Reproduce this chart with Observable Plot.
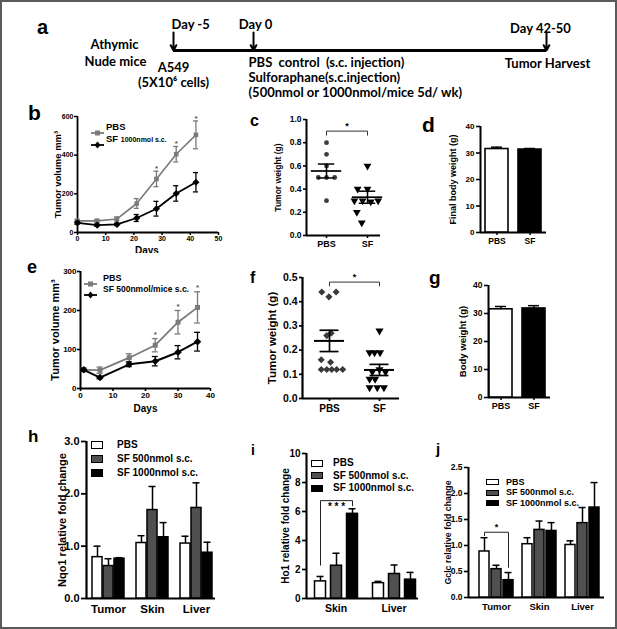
<!DOCTYPE html>
<html><head><meta charset="utf-8">
<script src="https://cdn.jsdelivr.net/npm/d3@7"></script>
<script src="https://cdn.jsdelivr.net/npm/@observablehq/plot@0.6"></script>
<style>
body{margin:0;background:#fff}
#fig{position:relative;width:617px;height:629px;overflow:hidden;background:#fff}
#border{position:absolute;left:0;top:0;width:617px;height:629px;box-sizing:border-box;border:2px solid #5a5a5a;pointer-events:none}
.t{position:absolute;white-space:nowrap;font-family:"Liberation Sans",Arial,sans-serif;font-weight:bold;color:#000}
</style></head><body><div id="fig"></div>
<script>
// ================= DATA =================
// a: timeline
const aDays = [-5, 0, 46];
const aDayLabels = ["Day -5", "Day 0", "Day 42-50"];
const aHostLines = ["Athymic", "Nude mice"];
const aCellLines = ["A549", "(5X10⁶ cells)"];
const aTreatLines = ["PBS  control  (s.c. injection)", "Sulforaphane(s.c.injection)", "(500nmol or 1000nmol/mice 5d/ wk)"];
const aEndLabel = "Tumor Harvest";

// b: tumor volume, SF 1000 nmol
const bDays = [0, 7, 14, 21, 28, 35, 42];
const bPBS = [60, 60, 70, 150, 277, 405, 505];
const bPBSErr = [8, 8, 10, 25, 40, 40, 72];
const bSF = [50, 38, 42, 75, 123, 202, 260];
const bSFErr = [8, 6, 6, 18, 38, 40, 50];
const bStars = [28, 35, 42];
const bXTicks = [0, 10, 20, 30, 40, 50];
const bYTicks = [0, 200, 400, 600];

// c: tumor weight (SF 1000)
const cGroups = ["PBS", "SF"];
const cPBS = [0.8, 0.7, 0.6, 0.5, 0.5, 0.5, 0.3];
const cPBSSlot = [0, 0, 0, -1, 0, 1, 0];
const cSF = [0.6, 0.4, 0.4, 0.3, 0.3, 0.29, 0.3, 0.2, 0.11];
const cSFSlot = [0, -1.2, 0, -1.6, -0.6, 0.4, 1.3, -1.3, -0.7];
const cMean = [0.556, 0.33];
const cSEM = [0.06, 0.052];
const cYTicks = [0, 0.2, 0.4, 0.6, 0.8, 1.0];

// d: final body weight
const dGroups = ["PBS", "SF"];
const dVals = [31.5, 31.3];
const dErr = [0.7, 0.4];
const dYTicks = [0, 10, 20, 30, 40];

// e: tumor volume, SF 500 nmol
const eDays = [1, 6, 15, 23, 30, 36];
const ePBS = [48, 47, 79, 111, 170, 208];
const ePBSErr = [4, 8, 10, 17, 30, 40];
const eSF = [48, 28, 62, 70, 93, 120];
const eSFErr = [4, 3, 6, 12, 17, 24];
const eStars = [23, 30, 36];
const eXTicks = [0, 10, 20, 30, 40];
const eYTicks = [0, 100, 200, 300];

// f: tumor weight (SF 500)
const fGroups = ["PBS", "SF"];
const fPBS = [0.44, 0.42, 0.44, 0.27, 0.26, 0.16, 0.15, 0.12, 0.12, 0.12, 0.12, 0.12];
const fPBSSlot = [-1.4, -0.1, 1.2, 0.3, -0.5, -1.5, 0.2, -1.5, -0.5, 0.4, 1.3, 2.4];
const fSF = [0.28, 0.19, 0.19, 0.19, 0.12, 0.11, 0.11, 0.08, 0.08, 0.045, 0.045, 0.045];
const fSFSlot = [0, -1.8, -0.9, 0.1, 0, -1.3, 1.1, -1.8, -0.8, -1.8, -0.4, 0.8];
const fMean = [0.238, 0.118];
const fSEM = [0.044, 0.023];
const fYTicks = [0, 0.1, 0.2, 0.3, 0.4, 0.5];

// g: body weight
const gGroups = ["PBS", "SF"];
const gVals = [31.5, 31.8];
const gErr = [1.0, 1.0];
const gYTicks = [0, 10, 20, 30, 40];

// h, i, j: relative fold change
const series3 = ["PBS", "SF 500nmol s.c.", "SF 1000nmol s.c."];
const hCats = ["Tumor", "Skin", "Liver"];
const hPBS = [0.79, 1.06, 1.05],   hPBSErr = [0.21, 0.14, 0.14];
const hSF500 = [0.62, 1.69, 1.73], hSF500Err = [0.14, 0.45, 0.48];
const hSF1000 = [0.76, 1.17, 0.875], hSF1000Err = [0.02, 0.28, 0.2];
const hYTicks = [0, 1, 2, 3];

const iCats = ["Skin", "Liver"];
const iPBS = [1.18, 1.06],   iPBSErr = [0.34, 0.12];
const iSF500 = [2.26, 1.69], iSF500Err = [0.86, 0.62];
const iSF1000 = [5.84, 1.3], iSF1000Err = [0.35, 0.5];
const iYTicks = [0, 2, 4, 6, 8, 10];

const jCats = ["Tumor", "Skin", "Liver"];
const jPBS = [0.885, 1.025, 1.01],  jPBSErr = [0.265, 0.125, 0.08];
const jSF500 = [0.545, 1.30, 1.43], jSF500Err = [0.075, 0.17, 0.30];
const jSF1000 = [0.333, 1.28, 1.73], jSF1000Err = [0.147, 0.16, 0.48];
const jYTicks = [0, 0.5, 1.0, 1.5, 2.0, 2.5];

// ================= HELPERS =================
const fig = document.getElementById("fig");
const W = 617, H = 629;
const ARIAL = '"Liberation Sans", Arial, Helvetica, sans-serif';
const LATO = 'Lato, "Open Sans", sans-serif';
const GRAY_LINE = "#7a7a7a";
const SERIES_FILL = ["#ffffff", "#505050", "#000000"];
const baseStyle = {background: "transparent", fontFamily: ARIAL, overflow: "visible"};

function fr(l, t, r, b) {
  return {width: W, height: H, marginLeft: l, marginTop: t, marginRight: W - r, marginBottom: H - b};
}
function put(svg) {
  svg.style.position = "absolute"; svg.style.left = "0px"; svg.style.top = "0px";
  fig.appendChild(svg);
}
function html(content, left, cy, size, extra = "") {
  const d = document.createElement("div");
  d.className = "t";
  d.innerHTML = content;
  d.style.cssText += `left:${left}px;top:${cy - size * 0.5}px;font-size:${size}px;line-height:${size}px;${extra}`;
  fig.appendChild(d);
  return d;
}
function letter(ch, left, baseline, size) {
  const d = document.createElement("div");
  d.className = "t";
  d.textContent = ch;
  d.style.cssText += `left:${left}px;top:${baseline - 0.85 * size}px;font-size:${size}px;line-height:${size}px;`;
  fig.appendChild(d);
}
function rowsOf(xs, vs, es) { return xs.map((x, i) => ({x, v: vs[i], e: es[i]})); }

function yLabel(text, dx, fs) {
  return Plot.text([text], {text: d => d, frameAnchor: "left", textAnchor: "middle", lineAnchor: "middle", rotate: -90, dx, fontSize: fs, fontWeight: "bold", fontFamily: ARIAL});
}
// axes-only plot: y ticks, L-shaped axis lines and the y title
function axesPlot(frame, yDomain, yTicks, o) {
  return Plot.plot({
    ...frame, style: baseStyle,
    x: {domain: [0, 1], axis: null},
    y: {domain: yDomain, axis: null},
    marks: [
      Plot.axisY({ticks: yTicks, tickFormat: o.fmt, tickSize: o.tickSize ?? 4, tickPadding: o.pad ?? 2,
        strokeWidth: o.sw ?? 1.6, fontSize: o.fs, fontWeight: "bold", fontFamily: ARIAL, label: null}),
      Plot.ruleX([0], {strokeWidth: (o.sw ?? 1.6) + 0.4}),
      Plot.ruleY([yDomain[0]], {strokeWidth: (o.sw ?? 1.6) + 0.4}),
      yLabel(o.label, o.labelDx, o.labelFs)
    ]
  });
}
// two-bar panels (d, g)
function twoBars(frame, groups, vals, errs, yDomain, o) {
  const rows = groups.map((g, i) => ({g, v: vals[i], e: errs[i], k: i}));
  return Plot.plot({
    ...frame, style: baseStyle,
    x: {domain: groups, paddingInner: o.pi, paddingOuter: 0, axis: null},
    y: {domain: yDomain, axis: null},
    color: {domain: [0, 1], range: ["#ffffff", "#000000"], type: "ordinal"},
    marks: [
      Plot.barY(rows, {x: "g", y: "v", fill: "k", stroke: "#000", strokeWidth: 1.6}),
      Plot.ruleX(rows, {x: "g", y1: "v", y2: d => d.v + d.e, strokeWidth: 1.5}),
      Plot.tickY(rows, {x: "g", y: d => d.v + d.e, strokeWidth: 1.5, insetLeft: o.capInset, insetRight: o.capInset}),
      Plot.axisX({tickSize: 3, tickPadding: o.tickPad ?? 2, strokeWidth: 1.5, fontSize: o.fs, fontWeight: "bold", fontFamily: ARIAL, label: null})
    ]
  });
}
// grouped bars with facets (h, i, j)
function groupedBars(frame, cats, vals, errs, yDomain, o) {
  const rows = [];
  cats.forEach((c, ci) => series3.forEach((s, si) => rows.push({cat: c, s, v: vals[si][ci], e: errs[si][ci]})));
  const marks = [
    Plot.barY(rows, {fx: "cat", x: "s", y: "v", fill: "s", stroke: "#000", strokeWidth: 1.5}),
    Plot.ruleX(rows, {fx: "cat", x: "s", y1: "v", y2: d => d.v + d.e, strokeWidth: 1.5}),
    Plot.tickY(rows, {fx: "cat", x: "s", y: d => d.v + d.e, strokeWidth: 1.5, insetLeft: o.capInset, insetRight: o.capInset}),
    Plot.axisFx({anchor: "bottom", tickSize: 0, tickPadding: o.tickPad, fontSize: o.fs, fontWeight: "bold", fontFamily: ARIAL, label: null})
  ];
  if (o.bracket) {
    const b = o.bracket;
    const pts = [
      {cat: b.cat, s: series3[b.from], y: b.fromLow},
      {cat: b.cat, s: series3[b.from], y: b.y},
      {cat: b.cat, s: series3[b.to], y: b.y},
      {cat: b.cat, s: series3[b.to], y: b.toLow}
    ];
    marks.push(Plot.line(pts, {fx: "cat", x: "s", y: "y", strokeWidth: 1, stroke: "#222"}));
    marks.push(Plot.text([b], {fx: d => d.cat, x: d => series3[d.mid], y: d => d.y, text: d => d.label, dy: b.dy, fontSize: b.fs, fontWeight: "bold", fontFamily: ARIAL}));
  }
  return Plot.plot({
    ...frame, style: baseStyle,
    fx: {domain: cats, paddingInner: o.fxPi, paddingOuter: 0},
    x: {domain: series3, paddingInner: o.xPi, paddingOuter: 0, axis: null},
    y: {domain: yDomain, axis: null},
    color: {domain: series3, range: SERIES_FILL},
    marks
  });
}
function barLegend(x, y0, rowH, bw, bh, fs, gap) {
  series3.forEach((s, i) => {
    const cy = y0 + i * rowH;
    const box = document.createElement("div");
    box.style.cssText = `position:absolute;left:${x}px;top:${cy - bh / 2}px;width:${bw}px;height:${bh}px;box-sizing:border-box;border:1.6px solid #000;background:${SERIES_FILL[i]}`;
    fig.appendChild(box);
    html(s, x + bw + gap, cy, fs);
  });
}
function lineSwatch(x, cy, color, symbol) {
  const mk = symbol === "square"
    ? `<rect x="4" y="1.5" width="5" height="5" fill="${color}"/>`
    : `<path d="M6.5,0.5 L9.5,4 L6.5,7.5 L3.5,4 Z" fill="${color}"/>`;
  const d = document.createElement("div");
  d.style.cssText = `position:absolute;left:${x}px;top:${cy - 4}px;width:13px;height:8px`;
  d.innerHTML = `<svg width="13" height="8"><line x1="0" y1="4" x2="13" y2="4" stroke="${color}" stroke-width="1.8"/>${mk}</svg>`;
  fig.appendChild(d);
}

// series for line panels
function growthMarks(rows, color, symbol, r, cap, sw) {
  return [
    Plot.line(rows, {x: "x", y: "v", stroke: color, strokeWidth: sw}),
    Plot.ruleX(rows, {x: "x", y1: d => d.v - d.e, y2: d => d.v + d.e, stroke: color, strokeWidth: 1.3}),
    Plot.ruleY(rows, {x1: d => d.x - cap, x2: d => d.x + cap, y: d => d.v + d.e, stroke: color, strokeWidth: 1.3}),
    Plot.ruleY(rows, {x1: d => d.x - cap, x2: d => d.x + cap, y: d => d.v - d.e, stroke: color, strokeWidth: 1.3}),
    Plot.dot(rows, {x: "x", y: "v", symbol, r, fill: color, stroke: null})
  ];
}

// ================= PANEL a =================
// The schematic timeline is not drawn to scale: a symlog day scale places
// Day -5, Day 0 and Day 42-50 where the reference puts them.
{
  const aFont = {fontFamily: LATO, fontSize: 13, fontWeight: "bold"};
  put(Plot.plot({
    width: W, height: H, margin: 0, style: baseStyle,
    x: {type: "symlog", constant: 6.5, domain: [aDays[0], aDays[2]], range: [173, 546], axis: null},
    y: {domain: [0, 1], range: [32, 50], axis: null},
    marks: [
      Plot.ruleY([1], {x1: d3.min(aDays), x2: d3.max(aDays), strokeWidth: 3}),
      Plot.arrow(aDays, {x: d => d, y1: 0, y2: 1, strokeWidth: 2, headLength: 7, headAngle: 55}),
      Plot.text([aDays[0]], {x: d => d, y: 0, text: () => aDayLabels[0], textAnchor: "start", dx: -2, dy: -8, ...aFont}),
      Plot.text([aDays[1]], {x: d => d, y: 0, text: () => aDayLabels[1], dx: 2, dy: -8, ...aFont}),
      Plot.text([aDays[2]], {x: d => d, y: 0, text: () => aDayLabels[2], dx: -6, dy: -4, ...aFont}),
      Plot.text([aDays[0]], {x: d => d, y: 1, text: () => aHostLines[0], dx: -59, dy: -6, ...aFont}),
      Plot.text([aDays[0]], {x: d => d, y: 1, text: () => aHostLines[1], dx: -58, dy: 11, ...aFont}),
      Plot.text([aDays[0]], {x: d => d, y: 1, text: () => aCellLines[0], dx: 0, dy: 17, ...aFont}),
      Plot.text([aDays[0]], {x: d => d, y: 1, text: () => aCellLines[1], dx: 0, dy: 32, ...aFont}),
      ...aTreatLines.map((t, i) => Plot.text([aDays[1]], {x: d => d, y: 1, text: () => t, textAnchor: "start", dx: -5, dy: 12 + 15 * i, ...aFont})),
      Plot.text([aDays[2]], {x: d => d, y: 1, text: () => aEndLabel, dx: 1, dy: 13, ...aFont})
    ]
  }));
}

// ================= PANEL b =================
{
  const pbs = rowsOf(bDays, bPBS, bPBSErr), sf = rowsOf(bDays, bSF, bSFErr);
  put(Plot.plot({
    ...fr(77, 116, 218, 232), style: baseStyle,
    x: {domain: [0, 50]}, y: {domain: [0, 600]},
    marks: [
      Plot.axisX({ticks: bXTicks, tickSize: 3, tickPadding: 1, strokeWidth: 1.5, fontSize: 7, fontWeight: "bold", fontFamily: ARIAL, label: null}),
      Plot.axisY({ticks: bYTicks, tickSize: 3, tickPadding: 1, strokeWidth: 1.5, fontSize: 7, fontWeight: "bold", fontFamily: ARIAL, label: null}),
      Plot.ruleX([0], {strokeWidth: 1.8}), Plot.ruleY([0], {strokeWidth: 1.8}),
      yLabel("Tumor volume mm³", -20, 9.5),
      ...growthMarks(pbs, GRAY_LINE, "square", 2.6, 0.9, 1.6),
      ...growthMarks(sf, "#000", "diamond2", 3.2, 0.9, 1.8),
      Plot.text(pbs.filter(d => bStars.includes(d.x)), {x: "x", y: d => d.v + d.e, text: () => "*", dy: -3, fontSize: 8, fontWeight: "bold", fill: "#555"})
    ]
  }));
  lineSwatch(91, 127, GRAY_LINE, "square");
  html("PBS", 106, 127, 9.5);
  lineSwatch(91, 139, "#000", "diamond");
  html('SF <span style="font-size:7px">1000nmol s.c.</span>', 106, 139, 9.5);
  // "Days" title of panel b, partly hidden under panel e as in the reference
  const clip = document.createElement("div");
  clip.style.cssText = "position:absolute;left:120px;top:246px;width:60px;height:7px;overflow:hidden";
  clip.innerHTML = '<div class="t" style="left:15px;top:0px;font-size:10px;line-height:10px">Days</div>';
  fig.appendChild(clip);
}

// ================= PANEL c =================
{
  const pts1 = cPBS.map((v, i) => ({x: 1 + cPBSSlot[i] * 0.2, v}));
  const pts2 = cSF.map((v, i) => ({x: 2 + cSFSlot[i] * 0.2, v}));
  const summ = cMean.map((m, i) => ({g: i + 1, m, s: cSEM[i]}));
  const br = [{x: 1, y: 0.865}, {x: 1, y: 0.9}, {x: 2, y: 0.9}, {x: 2, y: 0.865}];
  put(Plot.plot({
    ...fr(306, 119, 380, 235), style: baseStyle,
    x: {domain: [0.512, 2.317]}, y: {domain: [0, 1]},
    marks: [
      Plot.axisY({ticks: cYTicks, tickFormat: d3.format(".1f"), tickSize: 3, tickPadding: 2, strokeWidth: 1.6, fontSize: 8.5, fontWeight: "bold", fontFamily: ARIAL, label: null}),
      Plot.axisX({ticks: [1, 2], tickFormat: d => cGroups[d - 1], tickSize: 3, tickPadding: 2, strokeWidth: 1.6, fontSize: 9, fontWeight: "bold", fontFamily: ARIAL, label: null}),
      Plot.ruleX([0.512], {strokeWidth: 2}), Plot.ruleY([0], {strokeWidth: 2}),
      yLabel("Tumor weight (g)", -28, 8.5),
      Plot.dot(pts1, {x: "x", y: "v", r: 2.4, fill: "#3c3c3c", stroke: null}),
      Plot.dot(pts2, {x: "x", y: "v", symbol: "triangle", rotate: 180, r: 2.9, fill: "#000", stroke: null}),
      Plot.ruleY(summ, {x1: d => d.g - 0.37, x2: d => d.g + 0.37, y: "m", strokeWidth: 1.7}),
      Plot.ruleY(summ, {x1: d => d.g - 0.2, x2: d => d.g + 0.2, y: d => d.m + d.s, strokeWidth: 1.5}),
      Plot.ruleY(summ, {x1: d => d.g - 0.2, x2: d => d.g + 0.2, y: d => d.m - d.s, strokeWidth: 1.5}),
      Plot.ruleX(summ, {x: "g", y1: d => d.m - d.s, y2: d => d.m + d.s, strokeWidth: 1.5}),
      Plot.line(br, {x: "x", y: "y", strokeWidth: 1, stroke: "#333"}),
      Plot.text([br[1]], {x: 1.5, y: "y", text: () => "*", dy: -5, fontSize: 9, fontWeight: "bold"})
    ]
  }));
}

// ================= PANEL d =================
put(axesPlot(fr(480, 126, 546, 232), [0, 40], dYTicks, {fs: 8, label: "Final body weight (g)", labelDx: -27, labelFs: 9}));
put(twoBars(fr(484.5, 126, 541.5, 232), dGroups, dVals, dErr, [0, 40], {pi: 0.3, capInset: 6, fs: 8.5}));

// ================= PANEL e =================
{
  const pbs = rowsOf(eDays, ePBS, ePBSErr), sf = rowsOf(eDays, eSF, eSFErr);
  put(Plot.plot({
    ...fr(80, 271, 210, 388), style: baseStyle,
    x: {domain: [0, 40]}, y: {domain: [0, 300]},
    marks: [
      Plot.axisX({ticks: eXTicks, tickSize: 3, tickPadding: 1, strokeWidth: 1.6, fontSize: 8, fontWeight: "bold", fontFamily: ARIAL, label: null}),
      Plot.axisY({ticks: eYTicks, tickSize: 3, tickPadding: 1, strokeWidth: 1.6, fontSize: 8, fontWeight: "bold", fontFamily: ARIAL, label: null}),
      Plot.ruleX([0], {strokeWidth: 2}), Plot.ruleY([0], {strokeWidth: 2}),
      yLabel("Tumor volume mm³", -25, 11),
      Plot.text(["Days"], {text: d => d, frameAnchor: "bottom", dy: 23, fontSize: 10, fontWeight: "bold"}),
      ...growthMarks(pbs, GRAY_LINE, "square", 2.8, 0.9, 1.8),
      ...growthMarks(sf, "#000", "diamond2", 3.4, 0.9, 2),
      Plot.text(pbs.filter(d => eStars.includes(d.x)), {x: "x", y: d => d.v + d.e, text: () => "*", dy: -4, fontSize: 8, fontWeight: "bold", fill: "#555"})
    ]
  }));
  lineSwatch(84, 278, GRAY_LINE, "square");
  html("PBS", 103, 278, 9);
  lineSwatch(84, 289, "#000", "diamond");
  html("SF 500nmol/mice s.c.", 103, 289, 8.5);
}

// ================= PANEL f =================
{
  const pts1 = fPBS.map((v, i) => ({x: 1 + fPBSSlot[i] * 0.11, v}));
  const pts2 = fSF.map((v, i) => ({x: 2 + fSFSlot[i] * 0.11, v}));
  const summ = fMean.map((m, i) => ({g: i + 1, m, s: fSEM[i]}));
  const br = [{x: 1, y: 0.465}, {x: 1, y: 0.481}, {x: 2, y: 0.481}, {x: 2, y: 0.465}];
  put(Plot.plot({
    ...fr(302, 277, 399, 398), style: baseStyle,
    x: {domain: [0.46, 2.4]}, y: {domain: [0, 0.5]},
    marks: [
      Plot.axisY({ticks: fYTicks, tickFormat: d3.format(".1f"), tickSize: 3, tickPadding: 2, strokeWidth: 1.7, fontSize: 10.5, fontWeight: "bold", fontFamily: ARIAL, label: null}),
      Plot.axisX({ticks: [1, 2], tickFormat: d => fGroups[d - 1], tickSize: 3, tickPadding: 3, strokeWidth: 1.7, fontSize: 10, fontWeight: "bold", fontFamily: ARIAL, label: null}),
      Plot.ruleX([0.46], {strokeWidth: 2.2}), Plot.ruleY([0], {strokeWidth: 2.2}),
      yLabel("Tumor weight (g)", -30, 11.5),
      Plot.dot(pts1, {x: "x", y: "v", symbol: "diamond2", r: 3.2, fill: "#3a3a3a", stroke: null}),
      Plot.dot(pts2, {x: "x", y: "v", symbol: "triangle", rotate: 180, r: 3, fill: "#000", stroke: null}),
      Plot.ruleY(summ, {x1: d => d.g - 0.3, x2: d => d.g + 0.3, y: "m", strokeWidth: 2}),
      Plot.ruleY(summ, {x1: d => d.g - 0.19, x2: d => d.g + 0.19, y: d => d.m + d.s, strokeWidth: 1.7}),
      Plot.ruleY(summ, {x1: d => d.g - 0.19, x2: d => d.g + 0.19, y: d => d.m - d.s, strokeWidth: 1.7}),
      Plot.ruleX(summ, {x: "g", y1: d => d.m - d.s, y2: d => d.m + d.s, strokeWidth: 1.7}),
      Plot.line(br, {x: "x", y: "y", strokeWidth: 1, stroke: "#333"}),
      Plot.text([br[1]], {x: 1.5, y: "y", text: () => "*", dy: -5, fontSize: 9, fontWeight: "bold"})
    ]
  }));
}

// ================= PANEL g =================
put(axesPlot(fr(488, 285, 550, 397), [0, 40], gYTicks, {fs: 8.5, label: "Body weight (g)", labelDx: -26, labelFs: 9.5}));
put(twoBars(fr(489, 285, 546, 397), gGroups, gVals, gErr, [0, 40], {pi: 0.29, capInset: 6, fs: 9, tickPad: 2}));

// ================= PANEL h =================
put(axesPlot(fr(86, 441, 215, 598), [0, 3], hYTicks, {fs: 11, sw: 1.8, tickSize: 5, label: "Nqo1 relative fold change", labelDx: -24, labelFs: 11}));
put(groupedBars(fr(91, 441, 213, 598), hCats, [hPBS, hSF500, hSF1000], [hPBSErr, hSF500Err, hSF1000Err], [0, 3],
  {fxPi: 0.27, xPi: 0.13, capInset: 1.5, fs: 11.5, tickPad: 6}));
barLegend(91, 445, 14, 12, 8, 10, 14);

// ================= PANEL i =================
put(axesPlot(fr(306, 453, 418, 598), [0, 10], iYTicks, {fs: 10, sw: 1.7, tickSize: 4, label: "Ho1 relative fold change", labelDx: -21, labelFs: 10}));
put(groupedBars(fr(312.5, 453, 416.5, 598), iCats, [iPBS, iSF500, iSF1000], [iPBSErr, iSF500Err, iSF1000Err], [0, 10],
  {fxPi: 0.222, xPi: 0.32, capInset: 2, fs: 10.5, tickPad: 6,
   bracket: {cat: "Skin", from: 0, to: 2, mid: 1, y: 6.75, fromLow: 2.3, toLow: 6.4, label: "* * *", dy: 6, fs: 10}}));
barLegend(311, 463, 12.5, 12, 7, 10, 10);

// ================= PANEL j =================
put(axesPlot(fr(468, 467, 604, 597), [0, 2.5], jYTicks, {fs: 8.5, sw: 1.6, tickSize: 4, fmt: d3.format(".1f"), label: "Gclc relative fold change", labelDx: -20, labelFs: 8.8}));
put(groupedBars(fr(478, 467, 599, 597), jCats, [jPBS, jSF500, jSF1000], [jPBSErr, jSF500Err, jSF1000Err], [0, 2.5],
  {fxPi: 0.218, xPi: 0.17, capInset: 1.5, fs: 9.5, tickPad: 6,
   bracket: {cat: "Tumor", from: 0, to: 2, mid: 1, y: 1.255, fromLow: 1.19, toLow: 0.58, label: "*", dy: -5, fs: 9}}));
barLegend(486, 482, 10.5, 13, 6, 9, 7);

// ================= PANEL LETTERS =================
letter("a", 37, 34, 20);
letter("b", 28, 120, 21);
letter("c", 250, 127, 16);
letter("d", 422, 132, 21);
letter("e", 27, 273, 18);
letter("f", 250, 284, 16);
letter("g", 429, 284, 19);
letter("h", 28, 442, 17);
letter("i", 251, 455, 14);
letter("j", 436, 454, 15);

const border = document.createElement("div");
border.id = "border";
fig.appendChild(border);
</script></body></html>
